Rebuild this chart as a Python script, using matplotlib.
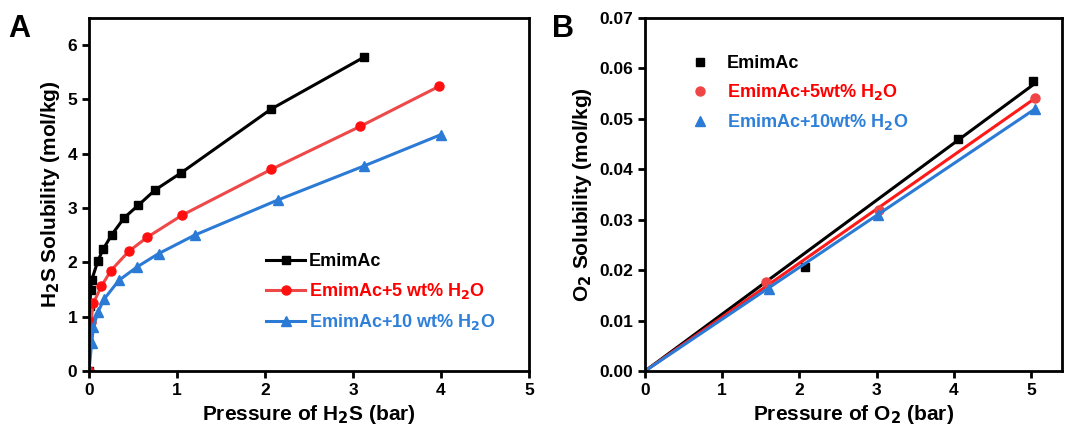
import numpy as np
import matplotlib
matplotlib.use("Agg")
import matplotlib.pyplot as plt

plt.rcParams['font.family'] = ['Liberation Sans', 'DejaVu Sans']
plt.rcParams['font.weight'] = 'bold'
plt.rcParams['axes.labelweight'] = 'bold'

# panel A: H2S solubility (mol/kg) vs pressure (bar)
h2s_p_pure = [0.0, 0.01, 0.02, 0.03, 0.10, 0.16, 0.26, 0.40, 0.56, 0.75, 1.05, 2.07, 3.12]
h2s_s_pure = [0.0, 1.2, 1.5, 1.67, 2.02, 2.24, 2.51, 2.82, 3.05, 3.33, 3.65, 4.82, 5.77]

h2s_p_w5 = [0.0, 0.02, 0.05, 0.14, 0.25, 0.45, 0.66, 1.06, 2.07, 3.08, 3.98]
h2s_s_w5 = [0.0, 0.9, 1.25, 1.56, 1.85, 2.2, 2.46, 2.87, 3.71, 4.5, 5.24]

h2s_p_w10 = [0.0, 0.03, 0.05, 0.10, 0.17, 0.34, 0.55, 0.79, 1.2, 2.15, 3.12, 4.0]
h2s_s_w10 = [0.0, 0.51, 0.81, 1.08, 1.32, 1.67, 1.92, 2.16, 2.5, 3.15, 3.77, 4.35]

# panel B: O2 solubility (mol/kg) vs pressure (bar)
o2_p_pure = [2.07, 4.05, 5.02]
o2_s_pure = [0.0207, 0.046, 0.0575]
o2_p_w5 = [1.57, 3.03, 5.05]
o2_s_w5 = [0.0177, 0.032, 0.054]
o2_p_w10 = [1.6, 3.02, 5.05]
o2_s_w10 = [0.0163, 0.031, 0.052]

labels_a = ['EmimAc', 'EmimAc+5 wt% H$_2$O', 'EmimAc+10 wt% H$_2$O']
labels_b = ['EmimAc', 'EmimAc+5wt% H$_2$O', 'EmimAc+10wt% H$_2$O']

black = '#000000'
red_line = '#ee4848'
red_mk = '#ff1010'
blue = '#2b7bd6'
text_red = '#ff0000'
text_blue = '#2f80d8'

fig = plt.figure(figsize=(10.76, 4.32), dpi=100)
ax1 = fig.add_axes([0.0827, 0.141, 0.4090, 0.818])
ax2 = fig.add_axes([0.5994, 0.141, 0.3876, 0.818])

for ax in (ax1, ax2):
    for s in ax.spines.values():
        s.set_linewidth(2)
    ax.tick_params(width=2, length=5, labelsize=12.5, direction='out')

# --- A ---
ax1.plot(h2s_p_pure, h2s_s_pure, '-s', color=black, lw=2.2, ms=6, label=labels_a[0])
ax1.plot(h2s_p_w5, h2s_s_w5, '-o', color=red_line, mfc=red_mk, mec=red_mk, lw=2.2, ms=6.5, label=labels_a[1])
ax1.plot(h2s_p_w10, h2s_s_w10, '-^', color=blue, lw=2.2, ms=6.5, label=labels_a[2])
ax1.set_xlim(0, 5)
ax1.set_ylim(0, 6.5)
ax1.set_xticks(range(0, 6))
ax1.set_yticks(range(0, 7))
ax1.set_xlabel('Pressure of H$_2$S (bar)', fontsize=15, fontweight='bold')
ax1.set_ylabel('H$_2$S Solubility (mol/kg)', fontsize=15, fontweight='bold')
leg1 = ax1.legend(loc='lower right', bbox_to_anchor=(0.96, 0.065), frameon=False,
                  handlelength=2.2, handletextpad=0.2, labelspacing=0.6,
                  prop={'weight': 'bold', 'size': 13})
for t, c in zip(leg1.get_texts(), [black, text_red, text_blue]):
    t.set_color(c)

# --- B ---
fits = [(o2_p_pure, o2_s_pure, 's', black, black, 5.5),
        (o2_p_w5, o2_s_w5, 'o', '#ff1a1a', '#f04545', 6.5),
        (o2_p_w10, o2_s_w10, '^', blue, blue, 6.5)]
for (px, sy, mk, lc, mc, ms), lab in zip(fits, labels_b):
    px = np.array(px)
    sy = np.array(sy)
    slope = np.sum(px * sy) / np.sum(px * px)  # fit through origin
    xx = np.array([0, px.max()])
    ax2.plot(xx, slope * xx, '-', color=lc, lw=2.2)
    ax2.plot(px, sy, mk, color=mc, ms=ms, ls='none', label=lab)
ax2.set_xlim(0, 5.4)
ax2.set_ylim(0, 0.07)
ax2.set_xticks(range(0, 6))
ax2.set_yticks(np.arange(0, 0.071, 0.01))
ax2.yaxis.set_major_formatter(matplotlib.ticker.FormatStrFormatter('%.2f'))
ax2.set_xlabel('Pressure of O$_2$ (bar)', fontsize=15, fontweight='bold')
ax2.set_ylabel('O$_2$ Solubility (mol/kg)', fontsize=15, fontweight='bold')
leg2 = ax2.legend(loc='upper left', bbox_to_anchor=(0.06, 0.94), frameon=False,
                  handlelength=1.5, handletextpad=0.75, labelspacing=0.55,
                  prop={'weight': 'bold', 'size': 13})
for t, c in zip(leg2.get_texts(), [black, text_red, text_blue]):
    t.set_color(c)

for ax in (ax1, ax2):
    for lab in ax.get_xticklabels() + ax.get_yticklabels():
        lab.set_fontweight('bold')

fig.text(0.008, 0.915, 'A', fontsize=22, fontweight='bold')
fig.text(0.513, 0.915, 'B', fontsize=22, fontweight='bold')

fig.savefig('out.png', dpi=100)
